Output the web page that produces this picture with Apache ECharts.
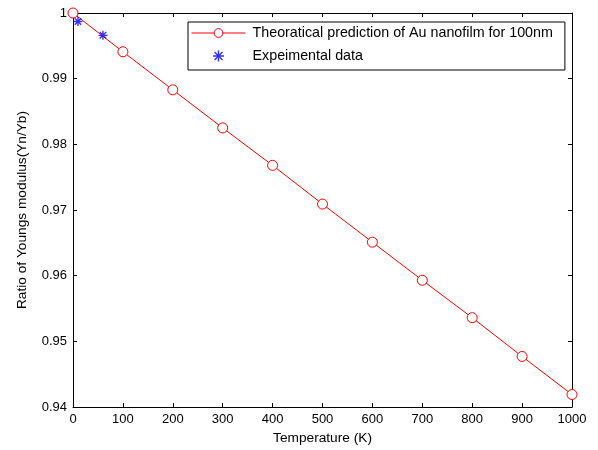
<!DOCTYPE html>
<html><head><meta charset="utf-8">
<script src="https://cdn.jsdelivr.net/npm/echarts@6/dist/echarts.min.js"></script>
<style>html,body{margin:0;padding:0;background:#fff}#c{width:598px;height:450px}</style>
</head><body><div id="c"></div>
<script>
const temps = [0,100,200,300,400,500,600,700,800,900,1000];
const theory = [1.0,0.9941,0.9883,0.9825,0.9768,0.9709,0.9651,0.9593,0.9536,0.9477,0.9419];
const expT = [10,60];
const expV = [0.9987,0.9966];
const xTicks = {min:0,max:1000,interval:100};
const yTicks = {min:0.94,max:1,interval:0.01};

const font = 'Liberation Sans, Arial, sans-serif';
const star = 'path://M0,-5L0,5M-5,0L5,0M-3.6,-3.6L3.6,3.6M-3.6,3.6L3.6,-3.6';
const axLine = {show:true,onZero:false,lineStyle:{color:'#000',width:1}};
const chart = echarts.init(document.getElementById('c'));
chart.setOption({
  animation:false,
  backgroundColor:'#fff',
  grid:{left:73,right:26,top:13,bottom:43,containLabel:false},
  legend:{
    orient:'vertical',left:188,top:22,
    borderColor:'#000',borderWidth:1,borderRadius:0,
    padding:[4,12,7,3],itemGap:9,itemWidth:54,itemHeight:11,
    backgroundColor:'#fff',
    lineStyle:{width:1},
    textStyle:{fontFamily:font,fontSize:14.3,color:'#000',padding:[0,0,0,2]},
    data:[
      {name:'Theoratical prediction of Au nanofilm for 100nm',itemStyle:{color:'#fff',borderColor:'#ff0000',borderWidth:1}},
      {name:'Expeimental data',icon:star,itemStyle:{color:'#0000ff',borderColor:'#0000ff',borderWidth:1.4}}
    ]
  },
  xAxis:[{
    type:'value',min:xTicks.min,max:xTicks.max,interval:xTicks.interval,
    name:'Temperature (K)',nameLocation:'middle',nameGap:24,
    nameTextStyle:{fontFamily:font,fontSize:13.7,color:'#000'},
    axisLine:axLine,axisTick:{inside:true,length:4,lineStyle:{color:'#000'}},
    axisLabel:{fontFamily:font,fontSize:13,color:'#000',margin:6,formatter:v=>String(v)},
    splitLine:{show:false}
  },{
    type:'value',position:'top',min:xTicks.min,max:xTicks.max,interval:xTicks.interval,
    axisLine:axLine,axisTick:{inside:true,length:4,lineStyle:{color:'#000'}},
    axisLabel:{show:false},splitLine:{show:false}
  }],
  yAxis:[{
    type:'value',min:yTicks.min,max:yTicks.max,interval:yTicks.interval,
    name:'Ratio of Youngs modulus(Yn/Yb)',nameLocation:'middle',nameGap:44,
    nameTextStyle:{fontFamily:font,fontSize:13.7,color:'#000'},
    axisLine:axLine,axisTick:{inside:true,length:4,lineStyle:{color:'#000'}},
    axisLabel:{fontFamily:font,fontSize:13,color:'#000',margin:6,formatter:v=>String(+v.toFixed(2))},
    splitLine:{show:false}
  },{
    type:'value',position:'right',min:yTicks.min,max:yTicks.max,interval:yTicks.interval,
    axisLine:axLine,axisTick:{inside:true,length:4,lineStyle:{color:'#000'}},
    axisLabel:{show:false},splitLine:{show:false}
  }],
  series:[{
    name:'Theoratical prediction of Au nanofilm for 100nm',
    type:'line',data:temps.map((t,i)=>[t,theory[i]]),
    symbol:'circle',symbolSize:10,showAllSymbol:true,
    lineStyle:{color:'#ff0000',width:1},
    itemStyle:{color:'#fff',borderColor:'#ff0000',borderWidth:1},
    color:'#ff0000',clip:false,z:2
  },{
    name:'Expeimental data',type:'scatter',data:expT.map((t,i)=>[t,expV[i]]),
    symbol:star,symbolSize:9,
    itemStyle:{color:'#0000ff',borderColor:'#0000ff',borderWidth:1.4},
    clip:false,z:3
  }]
});
</script></body></html>
